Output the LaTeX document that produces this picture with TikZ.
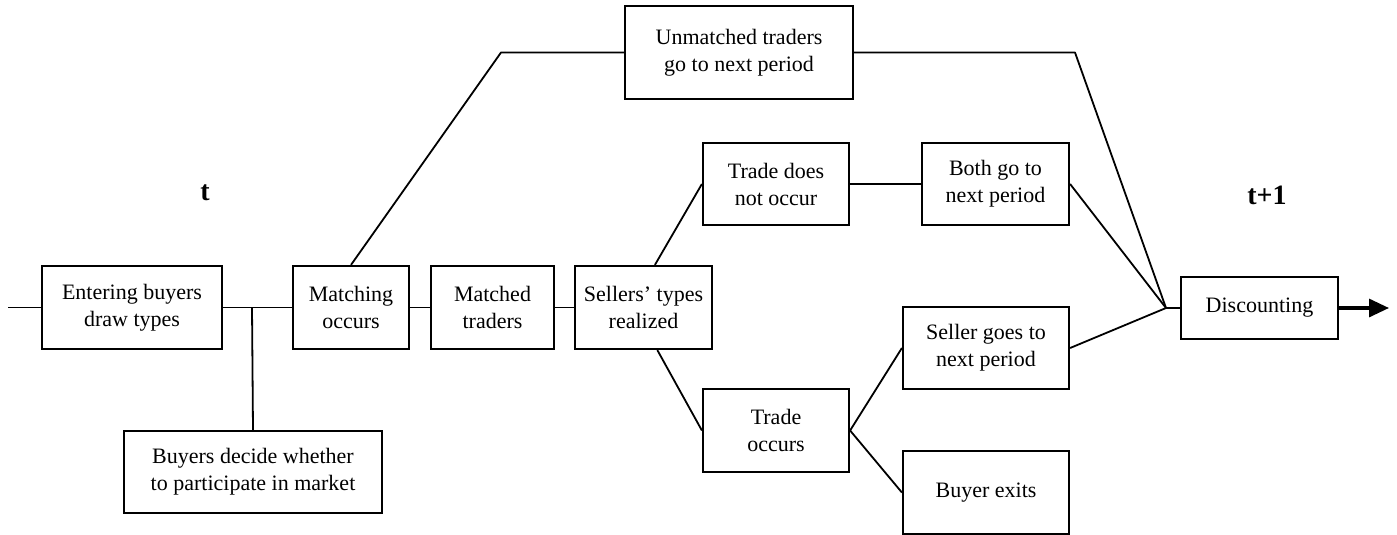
\documentclass[tikz,border=0pt]{standalone}
\usepackage{fontspec}
\setmainfont{Liberation Serif}
\usepackage{tikz}
\usetikzlibrary{arrows.meta}
\tikzset{
  box/.style={draw=black, line width=1.1pt, align=center, inner sep=0pt,
    font=\fontsize{11}{13.5}\selectfont},
  link/.style={draw=black, line width=0.9pt, line join=round},
  flow/.style={draw=black, line width=1.6pt, -{Triangle[length=10pt,width=9pt]}},
  lab/.style={font=\fontsize{14}{16}\selectfont\bfseries},
}

\begin{document}
\begin{tikzpicture}[x=0.5pt,y=-0.5pt]
  \useasboundingbox (0,0) rectangle (1397,535);
  \node[box,minimum width=90pt,minimum height=41.5pt] (enter) at (132,307.5) {Entering buyers\\draw types};
  \node[box,minimum width=129pt,minimum height=41pt] (decide) at (253,472) {Buyers decide whether\\to participate in market};
  \node[box,minimum width=58pt,minimum height=41.5pt] (match) at (351,307.5) {Matching\\occurs};
  \node[box,minimum width=61.5pt,minimum height=41.5pt] (matched) at (492.5,307.5) {Matched\\traders};
  \node[box,minimum width=68.5pt,minimum height=41.5pt] (sellers) at (643.5,307.5) {Sellers’ types\\realized};
  \node[box,minimum width=114pt,minimum height=46.5pt] (unmatched) at (739,52.5) {Unmatched traders\\go to next period};
  \node[box,minimum width=73pt,minimum height=41pt] (nooccur) at (776,184) {Trade does\\not occur};
  \node[box,minimum width=73.5pt,minimum height=41pt] (bothgo) at (995.5,184) {Both go to\\next period};
  \node[box,minimum width=73pt,minimum height=41.5pt] (occurs) at (776,430.5) {Trade\\occurs};
  \node[box,minimum width=83pt,minimum height=41pt] (sellergoes) at (986,348) {Seller goes to\\next period};
  \node[box,minimum width=83pt,minimum height=41.5pt] (exits) at (986,492.5) {Buyer exits};
  \node[box,minimum width=78.5pt,minimum height=31pt] (disc) at (1259.5,308) {Discounting};
  \node[lab] (tnow) at (205,193) {t};
  \node[lab] (tnext) at (1267,195) {t+1};

  \coordinate (start) at (8,307.5);
  \coordinate (split) at (252,307.5);
  \coordinate (upleft) at (501,52.5);
  \coordinate (upright) at (1075,52.5);
  \coordinate (conv) at (1166,308);
  \coordinate (finish) at (1389,308);

  \draw[link] (start) -- (enter.west);
  \draw[link] (enter.east) -- (match.west);
  \draw[link] (split) -- (decide.north);
  \draw[link] (match.east) -- (matched.west);
  \draw[link] (matched.east) -- (sellers.west);
  \draw[link] (match.north) -- (upleft) -- (unmatched.west);
  \draw[link] (unmatched.east) -- (upright) -- (conv);
  \draw[link] (sellers.75) -- (nooccur.west);
  \draw[link] (sellers.-72) -- (occurs.west);
  \draw[link] (nooccur.east) -- (bothgo.west);
  \draw[link] (occurs.east) -- (sellergoes.west);
  \draw[link] (occurs.east) -- (exits.west);
  \draw[link] (bothgo.east) -- (conv);
  \draw[link] (sellergoes.east) -- (conv);
  \draw[link] (conv) -- (disc.west);
  \draw[flow] (disc.east) -- (finish);
\end{tikzpicture}
\end{document}
